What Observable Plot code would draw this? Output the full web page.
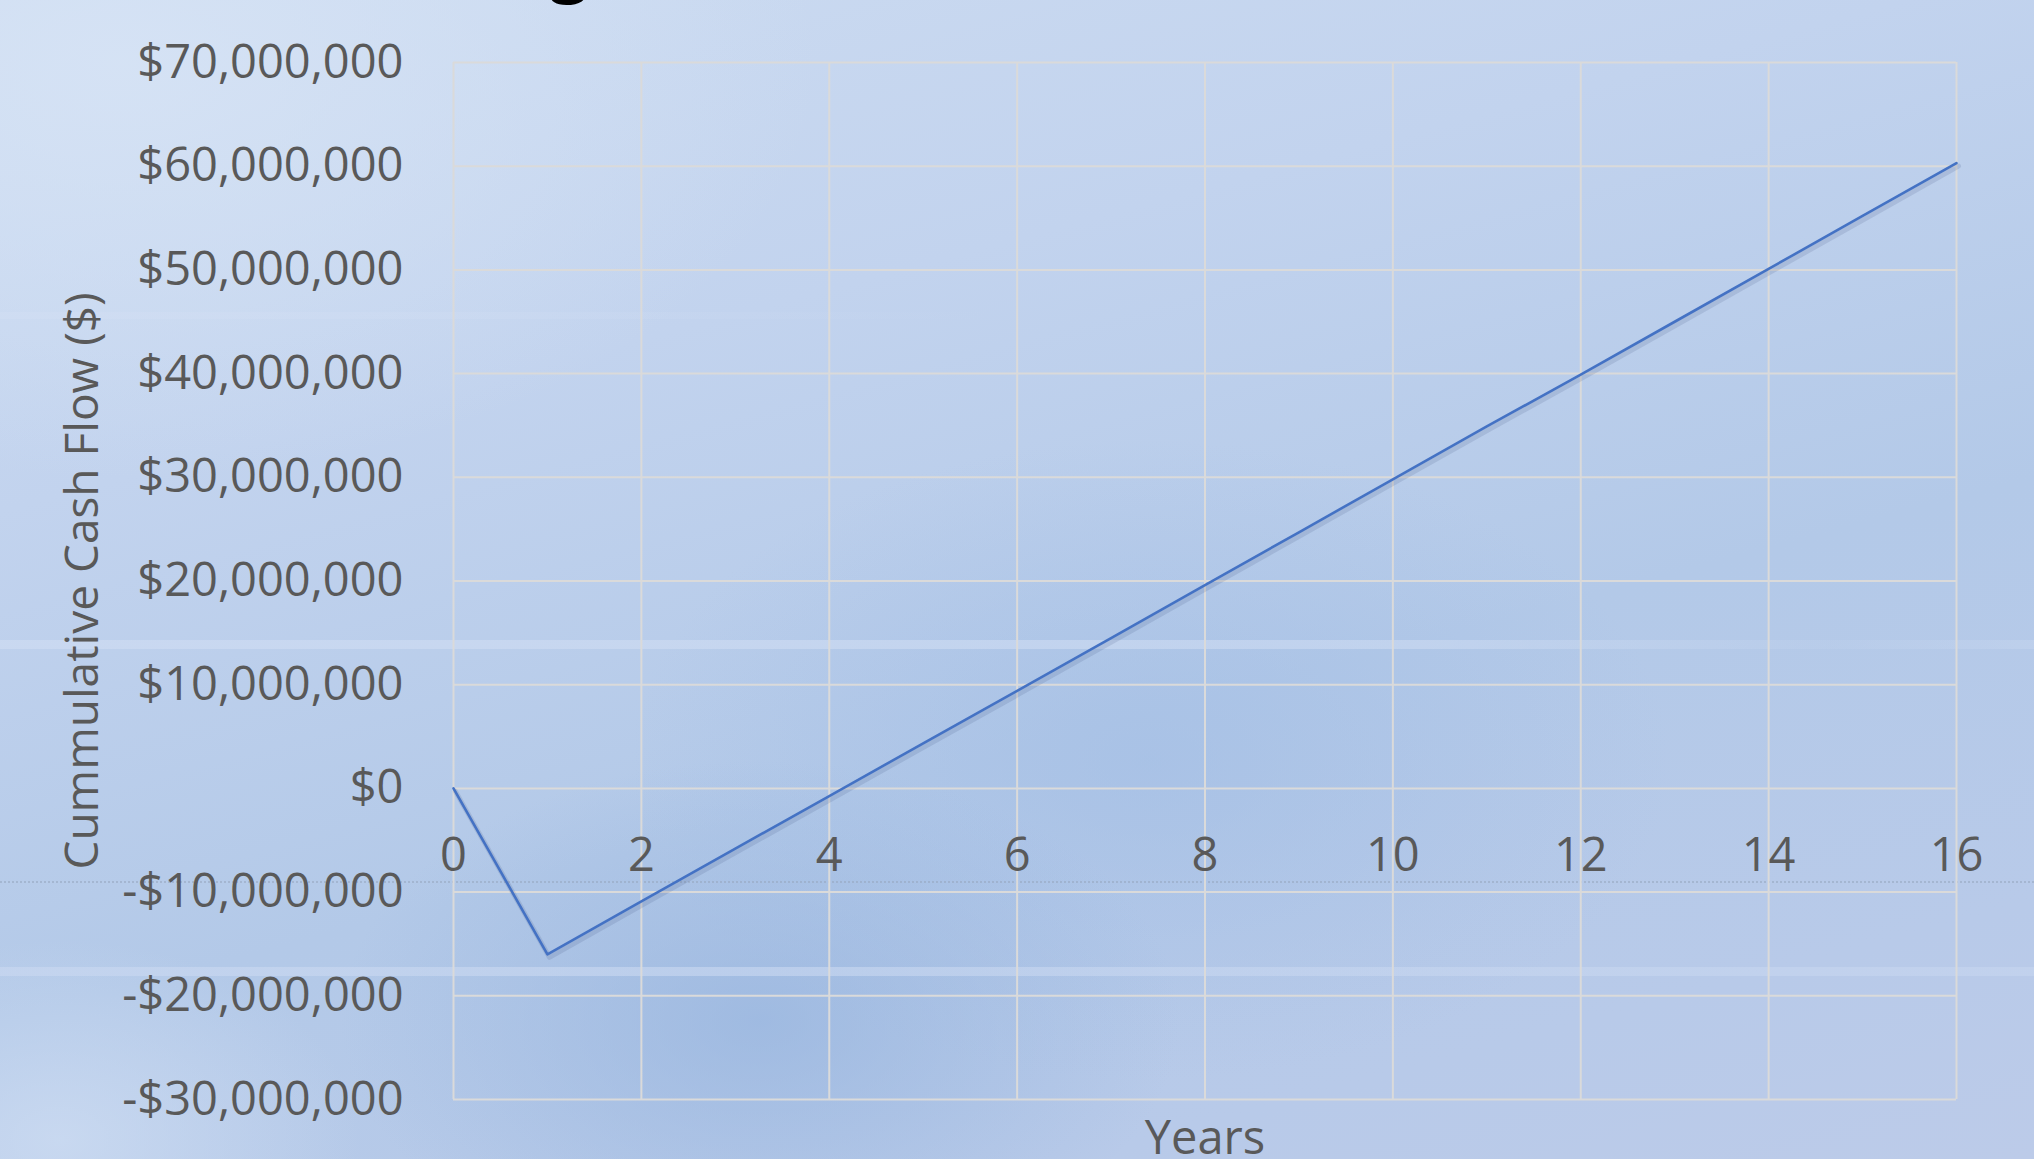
<!DOCTYPE html>
<html>
<head>
<meta charset="utf-8">
<script src="https://cdn.jsdelivr.net/npm/d3@7"></script>
<script src="https://cdn.jsdelivr.net/npm/@observablehq/plot@0.6"></script>
<style>
  html, body { margin: 0; padding: 0; width: 2034px; height: 1159px; overflow: hidden; }
  body {
    position: relative;
    background:
      radial-gradient(ellipse 420px 260px at 760px 1020px, rgba(150,180,222,0.7), rgba(150,180,222,0) 100%),
      radial-gradient(ellipse 520px 320px at 1150px 760px, rgba(160,188,228,0.55), rgba(160,188,228,0) 100%),
      radial-gradient(ellipse 300px 200px at 60px 1140px, rgba(205,220,242,0.8), rgba(205,220,242,0) 100%),
      radial-gradient(ellipse 700px 420px at 120px 60px, rgba(214,227,245,0.9), rgba(214,227,245,0) 100%),
      linear-gradient(165deg, #cddcf1 0%, #c2d3ee 30%, #b3c9e8 60%, #b8cae9 85%, #bccbe9 100%);
  }
  .band { position: absolute; left: 0; height: 9px; }
  #band1 { top: 640px; width: 2034px; background: linear-gradient(90deg, rgba(205,219,242,0.75) 0%, rgba(205,219,242,0.6) 70%, rgba(205,219,242,0.15) 90%, rgba(205,219,242,0.35) 100%); }
  #band2 { top: 967px; width: 2034px; background: linear-gradient(90deg, rgba(200,215,240,0.7) 0%, rgba(200,215,240,0.55) 100%); }
  #band0 { top: 312px; width: 1000px; height: 7px; background: linear-gradient(90deg, rgba(210,222,243,0.5), rgba(210,222,243,0)); }
  #dots { position: absolute; left: 0; top: 881px; width: 2034px; height: 0; border-top: 2px dotted rgba(150,165,190,0.55); }
  #title {
    position: absolute; top: -71px; left: 0;
    font-family: "Open Sans", sans-serif; font-weight: 700; font-size: 68px; line-height: 1;
    color: #000; white-space: nowrap;
  }
  #chart { position: absolute; left: 0; top: 0; }
</style>
</head>
<body>
<div id="band0" class="band"></div>
<div id="band1" class="band"></div>
<div id="band2" class="band"></div>
<div id="dots"></div>
<div id="title">Cash Flow Dia<span id="g">g</span>ram</div>
<div id="chart"></div>
<script>
// ---- data ----
const years = [0, 1, 2, 3, 4, 5, 6, 7, 8, 9, 10, 11, 12, 13, 14, 15, 16];
const cumulativeCashFlow = [0, -16000000, -10900000, -5800000, -750000, 4350000, 9400000, 14500000,
  19600000, 24700000, 29800000, 34900000, 39900000, 45000000, 50100000, 55200000, 60300000];
const xTicks = [0, 2, 4, 6, 8, 10, 12, 14, 16];
const yTicks = [-30000000, -20000000, -10000000, 0, 10000000, 20000000, 30000000, 40000000, 50000000, 60000000, 70000000];
const xLabel = "Years";
const yLabel = "Cummulative Cash Flow ($)";

const data = years.map((y, i) => ({year: y, value: cumulativeCashFlow[i]}));
const fmt = d => (d < 0 ? "-" : "") + "$" + d3.format(",")(Math.abs(d));

const textColor = "#595959";
const gridColor = "#dadada";
const fs = 47;

const chart = Plot.plot({
  width: 2034,
  height: 1159,
  marginLeft: 453,
  marginRight: 78,
  marginTop: 62,
  marginBottom: 60,
  style: {background: "transparent", fontFamily: "'Open Sans', sans-serif", color: textColor},
  x: {domain: [0, 16], axis: null},
  y: {domain: [-30000000, 70000000], axis: null},
  marks: [
    Plot.gridX(xTicks, {stroke: gridColor, strokeOpacity: 1, strokeWidth: 2}),
    Plot.gridY(yTicks, {stroke: gridColor, strokeOpacity: 1, strokeWidth: 2}),
    Plot.axisY(yTicks, {tickSize: 0, tickPadding: 50, tickFormat: fmt, fontSize: fs, fill: textColor, label: null}),
    Plot.text(xTicks, {x: d => d, y: () => 0, text: d => String(d), dy: 68, fontSize: fs, fill: textColor}),
    Plot.text([xLabel], {frameAnchor: "bottom", text: d => d, dy: 54, fontSize: fs, fill: textColor}),
    Plot.text([yLabel], {frameAnchor: "left", textAnchor: "middle", text: d => d, rotate: -90, dx: -370, fontSize: 46, fill: textColor}),
    Plot.line(data, {x: "year", y: "value", stroke: "#1f3560", strokeOpacity: 0.12, strokeWidth: 5, dx: 2, dy: 3}),
    Plot.line(data, {x: "year", y: "value", stroke: "#4472c4", strokeWidth: 2.6})
  ]
});
document.getElementById("chart").appendChild(chart);

// position title so its "g" sits where the reference shows it
const g = document.getElementById("g");
const title = document.getElementById("title");
const gx = g.getBoundingClientRect().left;
title.style.left = (550 - gx) + "px";
</script>
</body>
</html>
